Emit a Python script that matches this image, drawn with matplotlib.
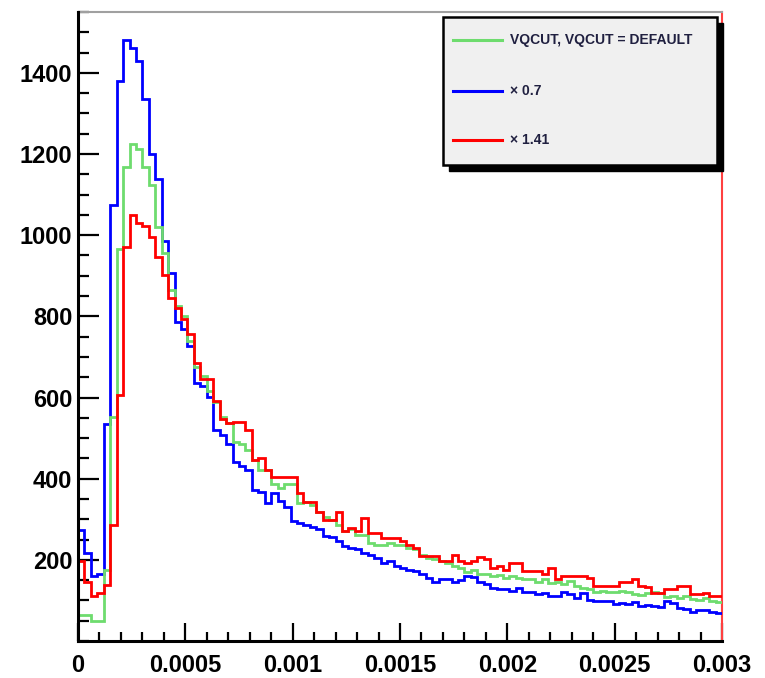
import numpy as np
import matplotlib
matplotlib.use("Agg")
import matplotlib.pyplot as plt
from matplotlib.patches import Rectangle
from matplotlib.lines import Line2D
from matplotlib.ticker import MultipleLocator

plt.rcParams['font.family'] = ['Liberation Sans', 'DejaVu Sans']

# histogram: 100 bins between 0 and 0.003
x_min, x_max, n_bins = 0.0, 0.003, 100

blue = [274, 218, 159, 166, 534, 1074, 1381, 1482, 1461, 1429,
        1335, 1200, 1139, 986, 906, 786, 769, 727, 637, 629,
        601, 519, 507, 486, 441, 431, 421, 372, 366, 341,
        364, 346, 331, 296, 291, 286, 281, 276, 258, 256,
        246, 233, 229, 226, 217, 211, 205, 191, 198, 186,
        181, 176, 172, 164, 156, 146, 152, 152, 146, 151,
        160, 158, 146, 141, 131, 127, 127, 124, 131, 121,
        120, 116, 119, 111, 111, 120, 116, 106, 118, 101,
        99, 99, 98, 90, 94, 90, 96, 86, 89, 86,
        84, 98, 94, 81, 78, 72, 76, 76, 71, 69]

green = [63, 63, 50, 50, 176, 551, 966, 1168, 1225, 1213,
         1168, 1123, 1021, 955, 866, 826, 800, 739, 674, 654,
         617, 588, 552, 536, 490, 486, 470, 445, 421, 421,
         386, 377, 388, 386, 339, 343, 336, 319, 306, 299,
         286, 271, 276, 262, 262, 242, 237, 237, 242, 237,
         237, 230, 226, 211, 205, 201, 196, 191, 186, 181,
         169, 176, 164, 166, 160, 162, 156, 160, 156, 152,
         154, 146, 152, 144, 146, 141, 147, 136, 131, 127,
         120, 124, 120, 120, 122, 120, 116, 114, 119, 121,
         119, 108, 111, 106, 111, 103, 101, 106, 98, 96]

red = [196, 145, 112, 119, 138, 286, 605, 971, 1050, 1029,
       1022, 996, 947, 903, 845, 821, 793, 756, 686, 646,
       646, 592, 548, 536, 539, 539, 519, 445, 450, 421,
       405, 405, 405, 405, 364, 343, 343, 319, 299, 299,
       319, 270, 278, 270, 303, 266, 266, 254, 254, 254,
       246, 237, 230, 209, 209, 209, 196, 196, 213, 196,
       193, 196, 206, 201, 180, 186, 176, 191, 193, 172,
       172, 172, 166, 180, 152, 160, 160, 160, 160, 156,
       136, 136, 135, 135, 146, 146, 152, 136, 132, 119,
       119, 127, 127, 135, 135, 115, 115, 118, 112, 111]

labels = ["VQCUT, VQCUT = DEFAULT", "\u00d7 0.7", "\u00d7 1.41"]
colors = ["#6edc6e", "#0000ff", "#ff0000"]

W, H = 765, 678
fig = plt.figure(figsize=(W / 100, H / 100), dpi=100)
ax = fig.add_axes([78 / W, (H - 641) / H, (722 - 78) / W, (641 - 12) / H])

edges = np.linspace(x_min, x_max, n_bins + 1)
ax.stairs(blue, edges, color=colors[1], lw=2, baseline=None, zorder=3)
ax.stairs(green, edges, color=colors[0], lw=2, baseline=None, zorder=3)
ax.stairs(red, edges, color=colors[2], lw=2, baseline=None, zorder=4)

ax.set_xlim(x_min, x_max)
ax.set_ylim(0, 1550)

ax.xaxis.set_minor_locator(MultipleLocator(0.0001))
ax.yaxis.set_minor_locator(MultipleLocator(50))
ax.set_xticks([0, 0.0005, 0.001, 0.0015, 0.002, 0.0025, 0.003])
ax.set_xticklabels(["0", "0.0005", "0.001", "0.0015", "0.002", "0.0025", "0.003"])
ax.set_yticks([200, 400, 600, 800, 1000, 1200, 1400])
ax.set_yticklabels(["200", "400", "600", "800", "1000", "1200", "1400"])

ax.tick_params(axis='both', which='both', direction='in', top=False, right=False)
ax.tick_params(axis='y', which='major', length=15, width=1.6, pad=4, labelsize=17)
ax.tick_params(axis='y', which='minor', length=8, width=1.6)
ax.tick_params(axis='x', which='major', length=13, width=1.6, pad=9, labelsize=17)
ax.tick_params(axis='x', which='minor', length=6.5, width=1.6)
for lab in ax.get_xticklabels() + ax.get_yticklabels():
    lab.set_fontweight('bold')

for s in ['left', 'bottom']:
    ax.spines[s].set_linewidth(2.2)
    ax.spines[s].set_color('black')
    ax.spines[s].set_zorder(5)
ax.spines['top'].set_color('#a0a0a0')
ax.spines['top'].set_linewidth(1.5)
ax.spines['right'].set_color('#ff4040')
ax.spines['right'].set_linewidth(1.5)


def fx(px):
    return px / W


def fy(py):
    return 1 - py / H


# legend box with black drop shadow
bx0, bx1, by0, by1 = 443, 717, 17, 165
fig.add_artist(Rectangle((fx(bx0 + 6), fy(by1 + 6)), fx(bx1) - fx(bx0), fy(by0) - fy(by1),
                         transform=fig.transFigure, facecolor='black', edgecolor='black', zorder=10))
fig.add_artist(Rectangle((fx(bx0), fy(by1)), fx(bx1) - fx(bx0), fy(by0) - fy(by1),
                         transform=fig.transFigure, facecolor='#f0f0f0', edgecolor='black',
                         lw=1.8, zorder=11))
for lab, col, py in zip(labels, colors, [40, 91, 140]):
    fig.add_artist(Line2D([fx(453), fx(502)], [fy(py), fy(py)], transform=fig.transFigure,
                          color=col, lw=2.2, zorder=12))
    fig.text(fx(510), fy(py), lab, fontsize=10, fontweight='bold', va='center', ha='left',
             color='#202040', zorder=12)

fig.savefig("out.png", dpi=100)
